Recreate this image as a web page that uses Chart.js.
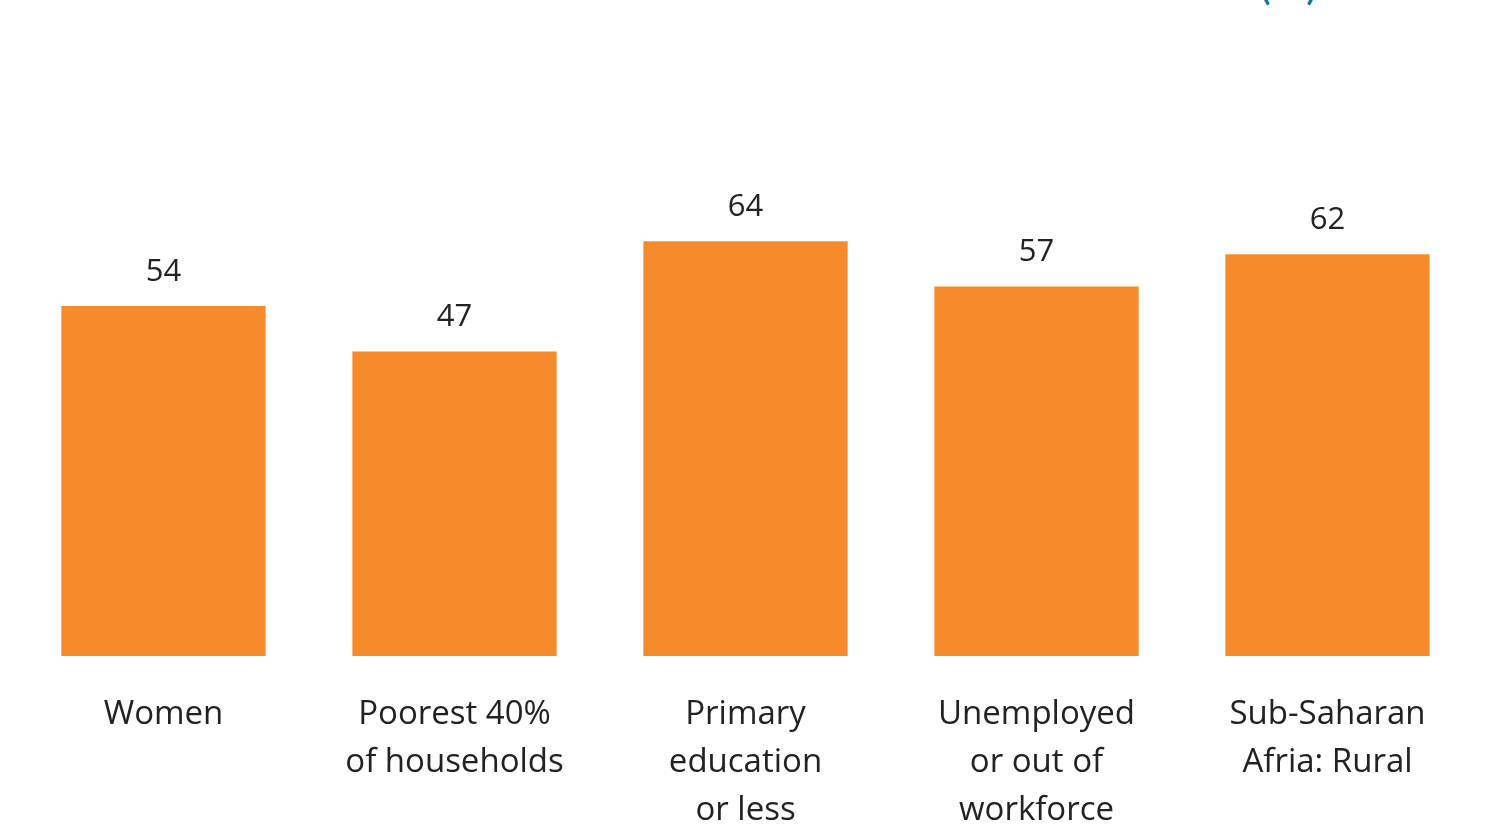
<!DOCTYPE html>
<html>
<head>
<meta charset="utf-8">
<script src="https://cdn.jsdelivr.net/npm/chart.js@4"></script>
<style>
  html, body { margin: 0; padding: 0; background: #fff; overflow: hidden; }
  #wrap { position: relative; width: 1485px; height: 829px; overflow: hidden; }
  #unit {
    position: absolute; left: 1259px; top: -44px;
    font-family: Lato, sans-serif; font-size: 44px; color: #0b7a99;
  }
  #chartBox { position: absolute; left: 0; top: 0; width: 1485px; height: 870px; }
</style>
</head>
<body>
<div id="wrap">
  <div id="unit">(%)</div>
  <div id="chartBox"><canvas id="chartCanvas"></canvas></div>
</div>
<script>
const categories = [
    ['Women'],
    ['Poorest 40%', 'of households'],
    ['Primary', 'education', 'or less'],
    ['Unemployed', 'or out of', 'workforce'],
    ['Sub-Saharan', 'Afria: Rural']
];
const values = [54, 47, 64, 57, 62];

const barColor = '#F68B2C';

// draws the numbers above each bar
const valueLabels = {
    id: 'valueLabels',
    afterDatasetsDraw(chart) {
        const ctx = chart.ctx;
        const meta = chart.getDatasetMeta(0);
        ctx.save();
        ctx.font = '31px "Open Sans", sans-serif';
        ctx.fillStyle = '#222';
        ctx.textAlign = 'center';
        ctx.textBaseline = 'middle';
        meta.data.forEach((bar, i) => {
            ctx.fillText(String(values[i]), bar.x, bar.y - 34);
        });
        ctx.restore();
    }
};

const ctx = document.getElementById('chartCanvas').getContext('2d');
new Chart(ctx, {
    type: 'bar',
    data: {
        labels: categories,
        datasets: [{
            data: values,
            backgroundColor: barColor,
            borderWidth: 0,
            barPercentage: 0.78,
            categoryPercentage: 0.9
        }]
    },
    options: {
        responsive: true,
        maintainAspectRatio: false,
        animation: false,
        layout: { padding: { left: 18, right: 12, top: 8, bottom: 0 } },
        plugins: {
            legend: { display: false },
            tooltip: { enabled: false }
        },
        scales: {
            x: {
                grid: { display: false, drawTicks: false },
                border: { display: false },
                ticks: {
                    color: '#222',
                    padding: 35,
                    maxRotation: 0,
                    autoSkip: false,
                    font: { family: '"Open Sans", sans-serif', size: 33, lineHeight: 1.455 }
                }
            },
            y: {
                display: false,
                min: 0,
                max: 100
            }
        }
    },
    plugins: [valueLabels]
});
</script>
</body>
</html>
